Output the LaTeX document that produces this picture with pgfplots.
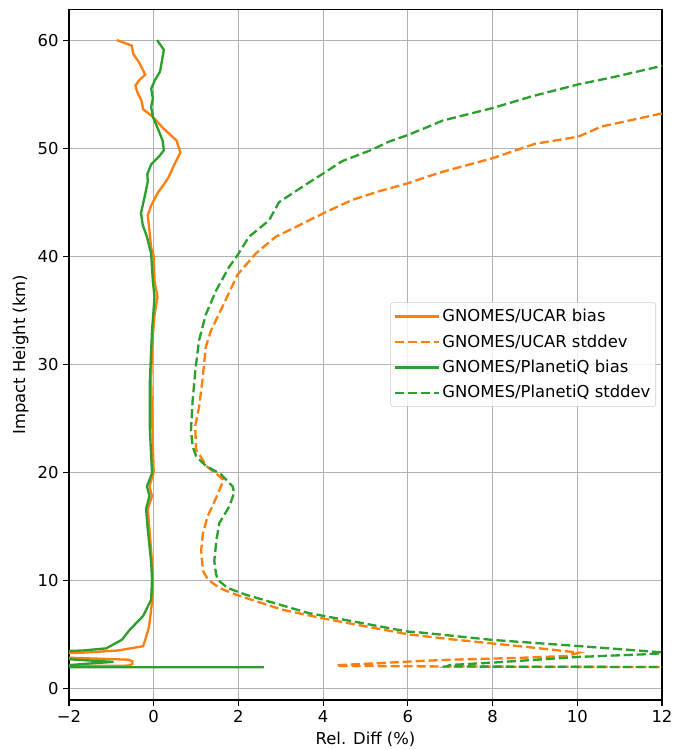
\documentclass[border=0pt]{standalone}
\usepackage{fontspec}
\setmainfont{DejaVu Sans}
\usepackage{pgfplots}
\pgfplotsset{compat=1.18}
\definecolor{mplorange}{HTML}{FF7F0E}
\definecolor{mplgreen}{HTML}{2CA02C}
\begin{document}
\begin{tikzpicture}
\begin{axis}[
  scale only axis,
  width=444.75pt, height=518pt,
  xmin=-2, xmax=12, ymin=-1.08, ymax=62.85,
  xtick={-2,0,2,4,6,8,10,12},
  xticklabels={−2,0,2,4,6,8,10,12},
  ytick={0,10,20,30,40,50,60},
  /pgf/number format/assume math mode=true,
  tick pos=left, tick align=outside,
  major tick length=4.3pt,
  tick style={black, line width=0.8pt},
  axis line style={black, line width=0.8pt},
  grid=major,
  major grid style={color=black!31, line width=0.8pt},
  ticklabel style={font=\fontsize{12.3}{14}\selectfont},
  label style={font=\fontsize{12.3}{14}\selectfont},
  xlabel={Rel. Diff (\%)},
  ylabel={Impact Height (km)},
  clip=true,
  legend cell align=left,
  legend style={at={(rel axis cs:1,0.5)}, xshift=-4.5pt, anchor=east,
    draw=black!20, rounded corners=2pt, fill=white, fill opacity=0.8, text opacity=1,
    font=\fontsize{12.3}{14}\selectfont, row sep=4.2pt, inner xsep=2pt, inner ysep=3pt},
  legend image code/.code={\draw[#1] (0pt,0pt) -- (25.5pt,0pt); \path (0pt,0pt) -- (33pt,0pt);},
]
% UCAR bias
\addplot[mplorange, solid, line width=1.75pt] coordinates {
(-0.87,60) (-0.52,59.5) (-0.48,58.7) (-0.34,57.9) (-0.25,57.2) (-0.2,56.8) (-0.34,56.3) (-0.43,55.8) (-0.39,55.2) (-0.29,54.4) (-0.25,53.6) (-0.02,52.9) (0.21,51.9) (0.54,50.7) (0.63,49.6) (0.49,48.5) (0.35,47.3) (0.25,46.7) (0.1,45.9) (-0.06,44.7) (-0.14,43.8) (-0.1,42.3) (-0.06,40.8) (0,40) (0.02,37.7) (0.09,36.2) (0.02,34.6) (-0.04,31.6) (-0.06,28.5) (-0.04,25.5) (-0.02,22.4) (0,20) (-0.1,18.7) (-0.04,17.8) (-0.14,16.6) (-0.1,14.7) (-0.04,11.7) (-0.02,10) (-0.02,8.8) (-0.06,7.3) (-0.11,5.7) (-0.2,4.5) (-0.25,3.9) (-0.85,3.5) (-1.68,3.3) (-2.5,3.2) (-2.5,2.9) (-0.6,2.65) (-0.5,2.5) (-0.5,2.25) (-0.6,2.1) (-2.5,2.05)
};
\addlegendentry{GNOMES/UCAR bias}
% UCAR stddev
\addplot[mplorange, dash pattern=on 6.8pt off 2.95pt, line width=1.75pt] coordinates {
(12.6,53.6) (11.98,53.2) (10.57,52.0) (10.02,51.06) (9.0,50.4) (8.0,49.07) (6.9,47.9) (6.49,47.4) (6.0,46.75) (5.31,46.0) (4.68,45.2) (4.02,44.0) (3.35,42.7) (2.88,41.8) (2.41,40.25) (1.98,38.3) (1.62,35.3) (1.35,33.1) (1.23,31.6) (1.15,28.5) (1.07,26) (0.98,24.3) (1.0,22.1) (1.15,21.2) (1.23,20.6) (1.47,19.9) (1.65,19.3) (1.47,17.6) (1.27,15.9) (1.16,14.3) (1.12,12.8) (1.16,10.9) (1.28,10.06) (1.55,9.3) (1.94,8.67) (3.03,7.28) (3.96,6.5) (6.0,5.0) (7,4.55) (8,4.15) (9,3.75) (9.76,3.42) (10.04,3.3) (9.76,3.0) (8.84,2.85) (8,2.75) (7,2.65) (6.3,2.53) (5.15,2.3) (4.35,2.15) (4.31,2.08) (7,2.02) (14,1.95)
};
\addlegendentry{GNOMES/UCAR stddev}
% PlanetiQ bias
\addplot[mplgreen, solid, line width=1.75pt] coordinates {
(0.08,60) (0.24,59.1) (0.19,58) (0.15,57.1) (0.03,56.3) (-0.06,55.5) (-0.02,54.6) (-0.06,53.8) (-0.02,52.9) (0.12,51.6) (0.21,50.7) (0.24,49.8) (0.12,49.2) (-0.06,48.5) (-0.15,47.6) (-0.14,46.9) (-0.22,45.4) (-0.3,44) (-0.26,42.9) (-0.16,41.8) (-0.06,40.2) (-0.02,37.7) (0.02,36.2) (-0.04,33.1) (-0.09,28.5) (-0.09,23.9) (-0.04,19.9) (-0.16,18.7) (-0.1,17.8) (-0.18,16.6) (-0.14,14.7) (-0.06,11.7) (-0.04,10.1) (-0.06,8.2) (-0.25,6.7) (-0.57,5.4) (-0.75,4.5) (-1.12,3.7) (-1.68,3.5) (-2.5,3.4) (-2.5,2.8) (-0.95,2.45) (-1.5,2.3) (-2.5,2.0) (-3,1.95) (2.6,1.95)
};
\addlegendentry{GNOMES/PlanetiQ bias}
% PlanetiQ stddev
\addplot[mplgreen, dash pattern=on 6.8pt off 2.95pt, line width=1.75pt] coordinates {
(12.5,57.9) (11.98,57.6) (10.88,56.6) (10.02,55.9) (8.93,54.8) (7.99,53.7) (6.82,52.55) (6.49,52.0) (5.99,51.2) (5.55,50.6) (5.15,49.85) (4.45,48.8) (4.02,47.7) (3.5,46.4) (2.96,45.0) (2.72,43.3) (2.25,41.8) (1.98,40.1) (1.78,39.0) (1.47,36.8) (1.23,34.6) (1.07,32.2) (0.99,29.7) (0.92,26.7) (0.88,23.9) (0.92,22.4) (1.0,21.5) (1.07,21.2) (1.23,20.6) (1.59,19.8) (1.86,18.7) (1.9,18.1) (1.78,16.8) (1.55,15.3) (1.48,13.7) (1.43,11.8) (1.47,10.6) (1.51,10.06) (1.74,9.3) (2.17,8.67) (3.65,6.97) (5.98,5.26) (6.29,5.17) (8,4.48) (10,3.92) (11.6,3.45) (12.15,3.28) (11.6,3.15) (11.0,3.06) (10,2.9) (8,2.38) (7.0,2.16) (6.9,2.02) (14,1.95)
};
\addlegendentry{GNOMES/PlanetiQ stddev}
\end{axis}
\pgfresetboundingbox
\path[use as bounding box] ([shift={(-51.75pt,-37.5pt)}]current axis.south west) rectangle ([shift={(8.25pt,7pt)}]current axis.north east);
\end{tikzpicture}
\end{document}
